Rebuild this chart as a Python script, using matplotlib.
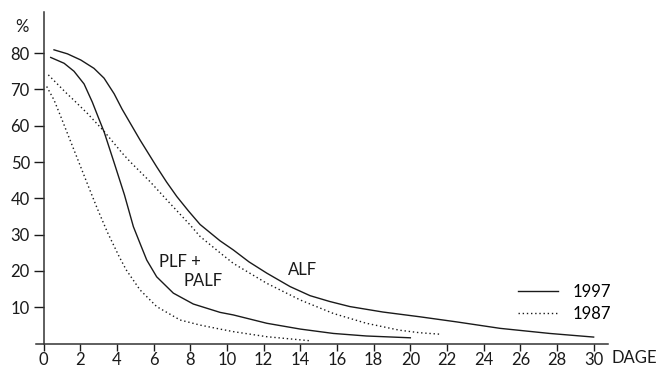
import matplotlib
matplotlib.use("Agg")
import matplotlib.pyplot as plt

plt.rcParams['font.family'] = ['Lato', 'DejaVu Sans']

# Days (x) and percentages (y)
alf_1997_x = [0.56, 1.29, 2.02, 2.74, 3.29, 3.84, 4.27, 4.8, 5.25, 6.16, 6.7, 7.26,
              7.9, 8.53, 9.62, 10.34, 11.2, 12.17, 13.44, 14.53, 15.6, 16.7, 18.5,
              20.5, 22.5, 24.9, 27.6, 30.0]
alf_1997_y = [80.9, 79.8, 78.1, 75.8, 73.1, 68.8, 64.6, 60.0, 56.1, 48.7, 44.5, 40.5,
              36.5, 32.8, 28.3, 25.8, 22.5, 19.4, 15.7, 13.2, 11.6, 10.2, 8.7,
              7.4, 6.0, 4.2, 2.8, 1.8]

plf_1997_x = [0.38, 1.11, 1.65, 2.2, 2.65, 3.0, 3.3, 3.86, 4.4, 4.89, 5.3, 5.62,
              6.16, 7.07, 8.16, 9.62, 10.34, 12.17, 14.0, 15.8, 17.6, 20.0]
plf_1997_y = [78.8, 77.2, 75.0, 71.5, 66.5, 62.0, 58.2, 49.5, 41.0, 32.2, 27.0, 23.0,
              18.4, 13.9, 10.9, 8.6, 7.9, 5.6, 4.0, 2.8, 2.1, 1.6]

alf_1987_x = [0.25, 1.25, 1.65, 2.38, 3.3, 4.29, 4.71, 5.8, 6.89, 7.98, 8.53, 9.62,
              10.34, 12.17, 14.0, 15.8, 17.6, 19.4, 20.5, 21.6]
alf_1987_y = [74.0, 68.9, 67.0, 63.4, 58.4, 52.4, 50.1, 44.6, 38.6, 32.7, 29.5, 25.0,
              22.1, 16.6, 12.0, 8.3, 5.6, 3.7, 3.0, 2.6]

plf_1987_x = [0.16, 0.56, 0.93, 1.29, 1.84, 2.38, 2.92, 3.47, 4.11, 4.5, 5.25, 6.16,
              7.44, 8.53, 9.62, 10.34, 12.17, 14.5]
plf_1987_y = [70.8, 67.1, 62.5, 57.9, 50.9, 44.0, 37.2, 30.7, 24.0, 20.3, 14.8, 10.2,
              6.5, 5.1, 4.0, 3.3, 1.9, 0.8]

x_ticks = list(range(0, 31, 2))
y_ticks = [10, 20, 30, 40, 50, 60, 70, 80]
legend_labels = ['1997', '1987']

fig = plt.figure(figsize=(6.67, 3.69), dpi=100)
ax = fig.add_axes([0.0546, 0.0688, 0.8574, 0.8995])

solid = dict(color='#1a1a1a', lw=1.0, ls='-', solid_joinstyle='round')
dotted = dict(color='#1a1a1a', lw=1.0, ls=(0, (1, 2)))

l1, = ax.plot(alf_1997_x, alf_1997_y, **solid)
ax.plot(plf_1997_x, plf_1997_y, **solid)
l2, = ax.plot(alf_1987_x, alf_1987_y, **dotted)
ax.plot(plf_1987_x, plf_1987_y, **dotted)

ax.set_xlim(-0.4, 30.8)
ax.set_ylim(0, 91.4)
ax.spines['left'].set_position(('data', 0))
ax.spines['top'].set_visible(False)
ax.spines['right'].set_visible(False)
for s in ('left', 'bottom'):
    ax.spines[s].set_linewidth(1.1)
    ax.spines[s].set_color('#333333')

fs = 12
ax.set_xticks(x_ticks)
ax.set_xticklabels([str(t) for t in x_ticks])
ax.set_yticks(y_ticks)
ax.set_yticklabels([str(t) for t in y_ticks])
ax.tick_params(axis='y', direction='out', length=7, width=1.0, pad=3,
               labelsize=fs, colors='#1a1a1a')
ax.tick_params(axis='x', direction='out', length=5, width=1.0, pad=1,
               labelsize=fs, colors='#1a1a1a')

ax.text(-1.2, 87.3, '%', ha='center', va='center', fontsize=fs,
        color='#1a1a1a', clip_on=False)
ax.text(31.0, -3.9, 'DAGE', ha='left', va='center', fontsize=fs,
        color='#1a1a1a', clip_on=False)

ax.text(6.3, 22.5, 'PLF +', ha='left', va='center', fontsize=fs, color='#1a1a1a')
ax.text(7.6, 17.2, 'PALF', ha='left', va='center', fontsize=fs, color='#1a1a1a')
ax.text(13.3, 20.3, 'ALF', ha='left', va='center', fontsize=fs, color='#1a1a1a')

ax.legend([l1, l2], legend_labels, loc='upper left', bbox_to_anchor=(0.842, 0.181),
          frameon=False, fontsize=fs, handlelength=2.4, handletextpad=0.85,
          labelspacing=0.36, borderpad=0, borderaxespad=0)

fig.savefig('out.png', dpi=100)
